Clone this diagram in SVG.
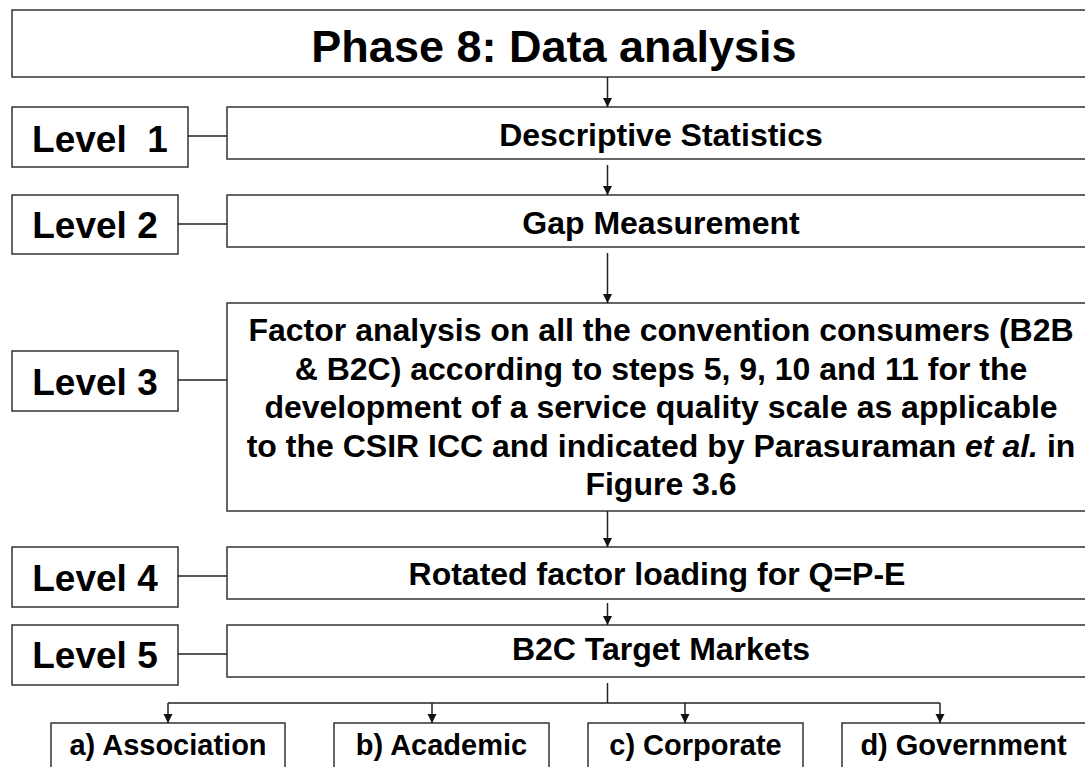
<svg xmlns="http://www.w3.org/2000/svg" width="1085" height="767" viewBox="0 0 1085 767">
  <defs>
    <marker id="arrow" markerWidth="8" markerHeight="10" refX="4" refY="9" orient="auto" markerUnits="userSpaceOnUse" viewBox="0 0 8 10">
      <path d="M0,0 L8,0 L4,9 Z" fill="#111" transform="rotate(-90 4 4.5)"/>
    </marker>
    <marker id="tip" markerWidth="9" markerHeight="10" refX="9" refY="5" orient="auto" markerUnits="userSpaceOnUse" viewBox="0 0 9 10">
      <path d="M0,0.5 L9,5 L0,9.5 Z" fill="#111"/>
    </marker>
  </defs>
  <style>
    .box { fill: #fff; stroke: #333; stroke-width: 1.5; }
    .line { fill: none; stroke: #222; stroke-width: 1.5; }
    .arr { fill: none; stroke: #222; stroke-width: 1.5; marker-end: url(#tip); }
    text { font-family: "Liberation Sans", Arial, sans-serif; font-weight: bold; fill: #000; text-anchor: middle; }
    .title { font-size: 45px; }
    .lvl { font-size: 37px; }
    .main { font-size: 32px; }
    .sub { font-size: 29px; }
  </style>
  <rect width="1085" height="767" fill="#fff"/>

  <!-- title -->
  <g id="title">
    <rect class="box" x="12" y="10" width="1084" height="67"/>
    <text class="title" x="554" y="62">Phase 8: Data analysis</text>
  </g>

  <!-- level labels -->
  <g id="level1">
    <rect class="box" x="12" y="107" width="176" height="60"/>
    <text class="lvl" x="100" y="152" xml:space="preserve">Level  1</text>
  </g>
  <g id="level2">
    <rect class="box" x="12" y="195" width="166" height="59"/>
    <text class="lvl" x="95" y="238">Level 2</text>
  </g>
  <g id="level3">
    <rect class="box" x="12" y="351" width="166" height="60"/>
    <text class="lvl" x="95" y="395">Level 3</text>
  </g>
  <g id="level4">
    <rect class="box" x="12" y="547" width="166" height="60"/>
    <text class="lvl" x="95" y="591">Level 4</text>
  </g>
  <g id="level5">
    <rect class="box" x="12" y="625" width="166" height="60"/>
    <text class="lvl" x="95" y="668">Level 5</text>
  </g>

  <!-- analysis steps -->
  <g id="descriptive">
    <rect class="box" x="227" y="107" width="869" height="52"/>
    <text class="main" x="661" y="146">Descriptive Statistics</text>
  </g>
  <g id="gap">
    <rect class="box" x="227" y="195" width="869" height="52"/>
    <text class="main" x="661" y="234">Gap Measurement</text>
  </g>
  <g id="factor">
    <rect class="box" x="227" y="303" width="869" height="208"/>
    <text class="main" x="661" y="341">Factor analysis on all the convention consumers (B2B</text>
    <text class="main" x="661" y="380">&amp; B2C) according to steps 5, 9, 10 and 11 for the</text>
    <text class="main" x="661" y="418">development of a service quality scale as applicable</text>
    <text class="main" x="661" y="457">to the CSIR ICC and indicated by Parasuraman <tspan font-style="italic">et al.</tspan> in</text>
    <text class="main" x="661" y="495">Figure 3.6</text>
  </g>
  <g id="rotated">
    <rect class="box" x="227" y="547" width="869" height="52"/>
    <text class="main" x="657" y="585">Rotated factor loading for Q=P-E</text>
  </g>
  <g id="b2c">
    <rect class="box" x="227" y="625" width="869" height="52"/>
    <text class="main" x="661" y="660">B2C Target Markets</text>
  </g>

  <!-- target market segments -->
  <g id="association">
    <rect class="box" x="51" y="723" width="234" height="60"/>
    <text class="sub" x="168" y="755">a) Association</text>
  </g>
  <g id="academic">
    <rect class="box" x="334" y="723" width="215" height="60"/>
    <text class="sub" x="441.5" y="755">b) Academic</text>
  </g>
  <g id="corporate">
    <rect class="box" x="588" y="723" width="215" height="60"/>
    <text class="sub" x="695.5" y="755">c) Corporate</text>
  </g>
  <g id="government">
    <rect class="box" x="842" y="723" width="245" height="60"/>
    <text class="sub" x="963.5" y="755">d) Government</text>
  </g>

  <!-- connectors -->
  <g id="connectors">
    <line class="line" x1="188" y1="136" x2="227" y2="136"/>
    <line class="line" x1="178" y1="224" x2="227" y2="224"/>
    <line class="line" x1="178" y1="380" x2="227" y2="380"/>
    <line class="line" x1="178" y1="576" x2="227" y2="576"/>
    <line class="line" x1="178" y1="654" x2="227" y2="654"/>

    <line class="arr" x1="607.5" y1="77" x2="607.5" y2="107"/>
    <line class="arr" x1="607.5" y1="165" x2="607.5" y2="195"/>
    <line class="arr" x1="607.5" y1="253" x2="607.5" y2="303"/>
    <line class="arr" x1="607.5" y1="511" x2="607.5" y2="547"/>
    <line class="arr" x1="607.5" y1="603" x2="607.5" y2="625"/>

    <line class="line" x1="607.5" y1="683" x2="607.5" y2="703"/>
    <line class="line" x1="168" y1="703" x2="940" y2="703"/>
    <line class="arr" x1="168" y1="703" x2="168" y2="723"/>
    <line class="arr" x1="432" y1="703" x2="432" y2="723"/>
    <line class="arr" x1="685" y1="703" x2="685" y2="723"/>
    <line class="arr" x1="940" y1="703" x2="940" y2="723"/>
  </g>
</svg>
